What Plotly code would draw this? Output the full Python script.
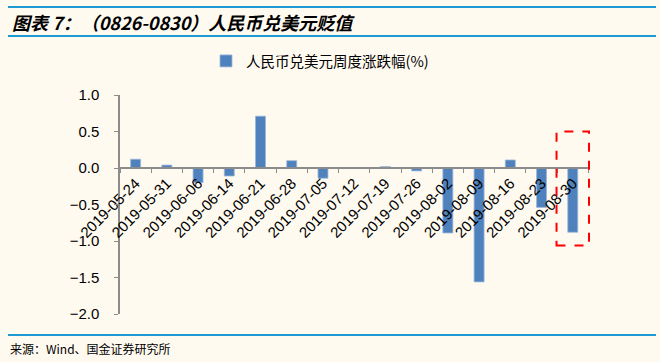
import plotly.graph_objects as go

categories = ["2019-05-24", "2019-05-31", "2019-06-06", "2019-06-14", "2019-06-21",
              "2019-06-28", "2019-07-05", "2019-07-12", "2019-07-19", "2019-07-26",
              "2019-08-02", "2019-08-09", "2019-08-16", "2019-08-23", "2019-08-30"]
values = [0.12, 0.04, -0.20, -0.11, 0.71, 0.10, -0.14, 0.0, 0.02, -0.04,
          -0.89, -1.56, 0.11, -0.54, -0.88]
series_name = "人民币兑美元周度涨跌幅(%)"
title_text = "图表 7：（0826-0830）人民币兑美元贬值"
source_text = "来源：Wind、国金证券研究所"
y_ticks = [1.0, 0.5, 0.0, -0.5, -1.0, -1.5, -2.0]

BG = "#FFFAF0"
BAR = "#4F81BD"
LINE = "#1E9AD6"
CJK = "Noto Sans CJK SC"

W, H = 660, 362
L, R, T, B = 120, 70, 95, 48
y_min, y_max = -2.0, 1.0
zero_pos = (0 - y_min) / (y_max - y_min)


def px_x(px):
    return (px - L) / (W - L - R)


def px_y(py):
    return 1 - (py - T) / (H - T - B)


fig = go.Figure()
fig.add_trace(go.Bar(
    x=categories, y=values, name=series_name,
    marker=dict(color=BAR, line=dict(color="#9DB7DA", width=0.8)),
    width=0.32, showlegend=True,
))

fig.update_layout(
    width=W, height=H,
    paper_bgcolor=BG, plot_bgcolor=BG,
    margin=dict(l=L, r=R, t=T, b=B, autoexpand=False),
    font=dict(family="Liberation Sans, Arial", size=13, color="#000"),
    showlegend=True,
    legend=dict(orientation="h", x=px_x(206), xanchor="left", y=px_y(61),
                yanchor="middle", font=dict(family=CJK, size=14.5),
                bgcolor="rgba(0,0,0,0)", itemwidth=30),
    bargap=0.68,
    xaxis=dict(
        type="category", anchor="free", position=zero_pos, automargin=False,
        showline=True, linecolor="#8C8C8C", linewidth=1.5,
        ticks="outside", tickson="boundaries", ticklen=4, tickcolor="#8C8C8C",
        tickangle=-45, showgrid=False, zeroline=False,
        tickfont=dict(family="Liberation Sans, Arial", size=15),
    ),
    yaxis=dict(
        range=[y_min, y_max], tickvals=y_ticks, tickformat=".1f", automargin=False,
        showline=True, linecolor="#8C8C8C", linewidth=1.5,
        ticks="outside", ticklen=4, tickcolor="#8C8C8C",
        showgrid=False, zeroline=False, ticklabelstandoff=12,
        tickfont=dict(family="Liberation Sans, Arial", size=15),
    ),
)

# Title and decorative lines
fig.add_annotation(text="<b><i>" + title_text + "</i></b>", xref="paper", yref="paper",
                   x=px_x(10), y=px_y(22),
                   xanchor="left", yanchor="middle", showarrow=False,
                   font=dict(family=CJK, size=18, color="#000"))
fig.add_annotation(text=source_text, xref="paper", yref="paper",
                   x=px_x(8), y=px_y(348),
                   xanchor="left", yanchor="middle", showarrow=False,
                   font=dict(family=CJK, size=12, color="#000"))

for ly in [7, 36, 335]:
    fig.add_shape(type="line", xref="paper", yref="paper",
                  x0=px_x(8), x1=px_x(656), y0=px_y(ly), y1=px_y(ly),
                  line=dict(color=LINE, width=2))

# Red dashed highlight box around the latest week
fig.add_shape(type="rect", xref="x", yref="y",
              x0=13.48, x1=14.52, y0=-1.06, y1=0.5,
              line=dict(color="#FF0000", width=2, dash="dash"))

fig.write_html("out.html", config={"displayModeBar": False},
               post_script="document.body.style.margin='0';document.body.style.background='" + BG + "';")
